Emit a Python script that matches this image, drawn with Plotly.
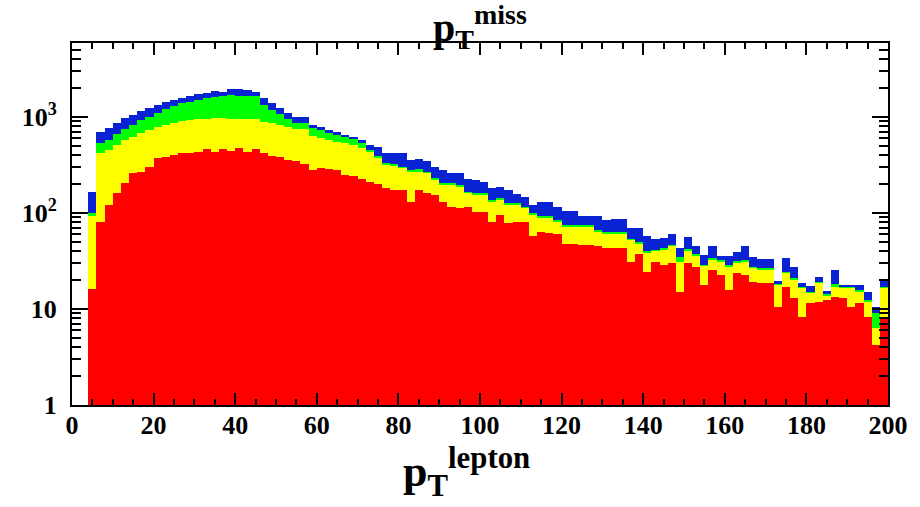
import plotly.graph_objects as go

# bin lower edges (GeV), width 2
bin_low = list(range(4, 200, 2))
bin_width = 2

# cumulative stack levels (top of each coloured layer)
stack_blue = [166, 703, 762, 860, 969, 1050, 1164, 1231, 1334, 1445,
              1503, 1588, 1655, 1724, 1766, 1880, 1836, 1958, 1934, 1888,
              1799, 1564, 1387, 1231, 1092, 993, 993, 825, 780, 732,
              703, 650, 624, 575, 511, 491, 425, 425, 419, 357,
              362, 351, 304, 281, 259, 259, 224, 221, 212, 181,
              188, 174, 158, 148, 121, 131, 131, 116, 106, 106,
              92, 92, 93, 85, 86, 86, 69, 69, 57, 54,
              55, 60, 43, 56, 45, 36.5, 45, 35.6, 35.6, 39.5,
              45, 34.5, 32.9, 32.9, 19.7, 33.7, 27.6, 18.8, 17.4, 21.7,
              15.5, 25.5, 17.8, 17.8, 17.8, 15.2, 10.6, 20]
stack_green = [100, 532, 575, 665, 745, 826, 931, 1007, 1092, 1202,
               1302, 1387, 1445, 1503, 1564, 1628, 1655, 1694, 1655, 1655,
               1637, 1334, 1183, 1075, 946, 860, 860, 762, 732, 687,
               650, 624, 585, 532, 453, 390, 334, 324, 304, 281,
               285, 270, 230, 207, 204, 196, 167, 160, 160, 137,
               142, 126, 126, 116, 99, 92, 92, 85, 75, 75,
               75, 75, 67, 64, 64, 64, 54, 50, 40, 41,
               43, 46, 35, 42, 37, 29, 34, 32, 28.7, 31.6,
               32, 27.6, 26.5, 26.5, 18.1, 24.5, 20.9, 17.1, 15.2, 19.3,
               14.2, 18, 16.8, 16.8, 15.8, 12.4, 9.0, 17.1]
stack_yellow = [92, 419, 453, 511, 575, 624, 676, 732, 793, 825,
                860, 916, 931, 946, 953, 969, 969, 946, 946, 946,
                942, 893, 860, 825, 793, 745, 745, 634, 609, 575,
                553, 532, 511, 472, 435, 375, 316, 309, 292, 270,
                270, 259, 221, 196, 196, 188, 160, 154, 154, 131,
                137, 121, 121, 112, 95, 88, 88, 81, 72, 72,
                72, 72, 64, 61, 61, 61, 52, 48, 38, 40,
                41, 45, 31, 40.5, 35.6, 28, 32, 31, 27.6, 30,
                31, 26.5, 25.5, 25.5, 17.8, 23.5, 20, 16.4, 14.6, 18.5,
                13.5, 17.1, 16.4, 16.4, 15.2, 11.9, 6.3, 16.4]
stack_red = [16, 81, 121, 160, 204, 259, 270, 304, 371, 386,
             402, 425, 425, 435, 464, 435, 464, 443, 472, 435,
             464, 419, 392, 386, 357, 348, 324, 281, 292, 287,
             281, 249, 243, 224, 212, 200, 181, 174, 174, 131,
             174, 160, 154, 131, 116, 112, 116, 103, 103, 81,
             95, 78, 81, 81, 57, 64, 62, 61, 48, 48,
             46, 46, 45, 43, 43, 43, 31, 37, 24, 31,
             29, 30, 15, 30, 27.6, 17.8, 25.5, 22.6, 15.8, 23.5,
             22.6, 19.3, 18.5, 18.5, 10.6, 17.1, 12.9, 8.3, 11.5, 11.7,
             12.5, 13.4, 12.9, 10.6, 11.5, 8.3, 4.2, 8.3]

x_ticks = [0, 20, 40, 60, 80, 100, 120, 140, 160, 180, 200]
y_ticks = [1, 10, 100, 1000]
y_ticktext = ["<b>1</b>", "<b>10</b>", "<b>10<sup>2</sup></b>", "<b>10<sup>3</sup></b>"]
x_ticktext = ["<b>%d</b>" % v for v in x_ticks]
y_minor = [m * d for d in (1, 10, 100, 1000) for m in range(2, 10)]

centers = [b + bin_width / 2 for b in bin_low]

layers = [
    ("blue", stack_blue, "#0822d4"),
    ("green", stack_green, "#00ff00"),
    ("yellow", stack_yellow, "#ffff00"),
    ("red", stack_red, "#ff0000"),
]

fig = go.Figure()
for name, vals, col in layers:
    fig.add_trace(go.Bar(x=centers, y=vals, width=bin_width, name=name,
                         marker=dict(color=col, line=dict(width=0)),
                         showlegend=False))

serif = "Liberation Serif"
fig.update_layout(
    width=920, height=507,
    margin=dict(l=72, r=26, t=43, b=102),
    barmode="overlay", bargap=0,
    paper_bgcolor="white", plot_bgcolor="white",
    font=dict(family=serif, color="black"),
)
fig.update_xaxes(
    range=[0, 200], tickmode="array", tickvals=x_ticks, ticktext=x_ticktext,
    ticks="inside", ticklen=12, tickwidth=1.5, tickcolor="black",
    minor=dict(dtick=5, tick0=0, ticks="inside", ticklen=6, tickwidth=1.5, tickcolor="black"),
    showline=True, linecolor="black", linewidth=2, mirror="allticks",
    showgrid=False, zeroline=False, ticklabelstandoff=-4,
    tickfont=dict(family=serif, size=26, color="black"),
)
fig.update_yaxes(
    type="log", range=[0, 3.77], tickmode="array", tickvals=y_ticks, ticktext=y_ticktext,
    ticks="inside", ticklen=16, tickwidth=1.5, tickcolor="black",
    minor=dict(tickmode="array", tickvals=y_minor, ticks="inside", ticklen=9, tickwidth=1.5, tickcolor="black"),
    showline=True, linecolor="black", linewidth=2, mirror="allticks",
    showgrid=False, zeroline=False, ticklabelstandoff=8,
    tickfont=dict(family=serif, size=26, color="black"),
)

fig.add_annotation(text="<b>p<sub>T</sub><sup>miss</sup></b>", xref="paper", yref="paper",
                   x=0.5, y=1.0, xanchor="center", yanchor="bottom", yshift=-14,
                   showarrow=False, font=dict(family=serif, size=40, color="black"))
fig.add_annotation(text="<b>p<sub>T</sub><sup>lepton</sup></b>", xref="paper", yref="paper",
                   x=0.484, y=0, xanchor="center", yanchor="top", yshift=-34,
                   showarrow=False, font=dict(family=serif, size=44, color="black"))

fig.write_html("out.html")
